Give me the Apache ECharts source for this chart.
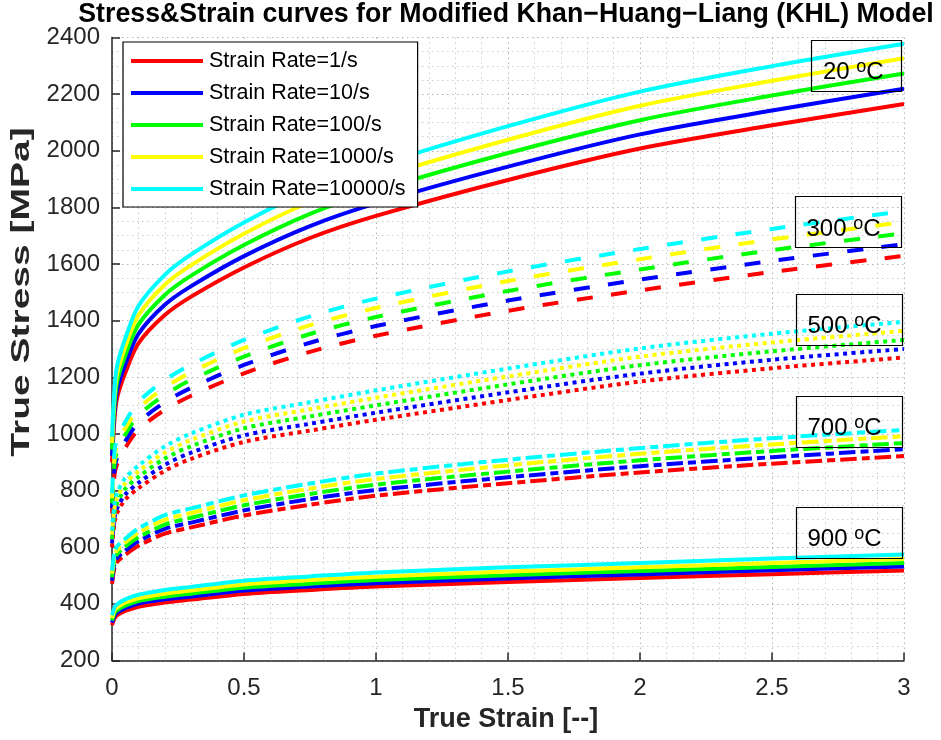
<!DOCTYPE html>
<html><head><meta charset="utf-8">
<script src="https://cdn.jsdelivr.net/npm/echarts@6/dist/echarts.min.js"></script>
<style>html,body{margin:0;padding:0;background:#fff}#c{width:941px;height:740px}</style>
</head><body><div id="c"></div>
<script>
// ---- data ----
const strain = [0, 0.01, 0.02, 0.05, 0.1, 0.2, 0.3, 0.5, 0.75, 1, 1.5, 2, 2.5, 3];
const rateNames = ['Strain Rate=1/s', 'Strain Rate=10/s', 'Strain Rate=100/s', 'Strain Rate=1000/s', 'Strain Rate=10000/s'];
const tempNames = ['20', '300', '500', '700', '900'];
const xTicks = [0, 0.5, 1, 1.5, 2, 2.5, 3];
const yTicks = [200, 400, 600, 800, 1000, 1200, 1400, 1600, 1800, 2000, 2200, 2400];

// 20 C
const t20_r1    = [900, 1060, 1130, 1215, 1320, 1420, 1485, 1588, 1692, 1770, 1897, 2008, 2090, 2165];
const t20_r10   = [923, 1087, 1158, 1245, 1353, 1456, 1522, 1628, 1734, 1814, 1944, 2058, 2142, 2219];
const t20_r100  = [945, 1113, 1187, 1276, 1386, 1491, 1559, 1667, 1777, 1859, 1992, 2108, 2195, 2273];
const t20_r1e3  = [968, 1140, 1215, 1306, 1419, 1527, 1596, 1707, 1819, 1903, 2039, 2159, 2247, 2327];
const t20_r1e4  = [990, 1166, 1243, 1337, 1452, 1562, 1634, 1747, 1861, 1947, 2087, 2209, 2299, 2378];
// 300 C
const t300_r1   = [720, 860, 895, 950, 1015, 1085, 1135, 1214, 1290, 1347, 1435, 1507, 1572, 1629];
const t300_r10  = [738, 882, 917, 974, 1040, 1112, 1163, 1244, 1322, 1381, 1471, 1545, 1611, 1670];
const t300_r100 = [755, 902, 939, 997, 1065, 1138, 1191, 1273, 1353, 1413, 1505, 1581, 1649, 1709];
const t300_r1e3 = [773, 923, 960, 1019, 1089, 1164, 1218, 1303, 1384, 1445, 1540, 1617, 1687, 1748];
const t300_r1e4 = [790, 943, 982, 1042, 1113, 1190, 1245, 1332, 1415, 1478, 1574, 1653, 1724, 1787];
// 500 C
const t500_r1   = [600, 690, 722, 768, 808, 870, 912, 972, 1012, 1050, 1120, 1185, 1232, 1270];
const t500_r10  = [614, 707, 739, 786, 827, 891, 934, 995, 1036, 1075, 1147, 1213, 1262, 1300];
const t500_r100 = [629, 724, 757, 806, 848, 913, 957, 1020, 1062, 1101, 1175, 1243, 1292, 1332];
const t500_r1e3 = [644, 741, 775, 825, 868, 934, 979, 1044, 1087, 1128, 1203, 1273, 1323, 1364];
const t500_r1e4 = [659, 758, 793, 844, 888, 956, 1002, 1068, 1112, 1154, 1231, 1302, 1354, 1396];
// 700 C
const t700_r1   = [470, 530, 549, 573, 605, 648, 670, 712, 750, 782, 826, 864, 895, 922];
const t700_r10  = [482, 544, 563, 588, 621, 665, 687, 730, 770, 802, 847, 886, 918, 946];
const t700_r100 = [494, 557, 576, 602, 635, 680, 704, 748, 788, 821, 867, 907, 940, 968];
const t700_r1e3 = [506, 570, 591, 617, 651, 697, 721, 766, 807, 841, 889, 930, 963, 992];
const t700_r1e4 = [517, 583, 604, 630, 666, 713, 737, 783, 825, 860, 909, 950, 985, 1014];
// 900 C
const t900_r1   = [325, 350, 360, 375, 390, 405, 415, 435, 449, 461, 477, 491, 505, 518];
const t900_r10  = [334, 359, 370, 385, 401, 416, 426, 447, 461, 473, 490, 504, 519, 532];
const t900_r100 = [341, 368, 378, 394, 410, 425, 436, 457, 471, 484, 501, 516, 530, 544];
const t900_r1e3 = [350, 377, 388, 404, 420, 436, 447, 468, 484, 496, 514, 529, 544, 558];
const t900_r1e4 = [360, 388, 399, 416, 432, 449, 460, 482, 497, 511, 529, 544, 560, 574];

// ---- styling ----
const rateColors = ['#ff0000', '#0000ff', '#00ff00', '#ffff00', '#00ffff'];
const groups = [
  { temp: '20',  dash: 'solid',          curves: [t20_r1, t20_r10, t20_r100, t20_r1e3, t20_r1e4] },
  { temp: '300', dash: [16, 18.5],       curves: [t300_r1, t300_r10, t300_r100, t300_r1e3, t300_r1e4] },
  { temp: '500', dash: [4, 4.5],         curves: [t500_r1, t500_r10, t500_r100, t500_r1e3, t500_r1e4] },
  { temp: '700', dash: [16.5, 5, 8, 5],  curves: [t700_r1, t700_r10, t700_r100, t700_r1e3, t700_r1e4] },
  { temp: '900', dash: 'solid',          curves: [t900_r1, t900_r10, t900_r100, t900_r1e3, t900_r1e4] }
];

const series = [];
groups.forEach(g => {
  g.curves.forEach((arr, i) => {
    series.push({
      type: 'line',
      name: g.temp === '20' ? rateNames[i] : g.temp + ' °C ' + rateNames[i],
      data: strain.map((x, k) => [x, arr[k]]),
      showSymbol: false, symbol: 'none',
      smooth: 0.3,
      silent: true, animation: false,
      lineStyle: { color: rateColors[i], width: 4, type: g.dash, cap: 'butt', join: 'round' },
      itemStyle: { color: rateColors[i] }
    });
  });
});

const tickFont = "'Liberation Sans', Arial, sans-serif";
const gridDot = { color: '#b4b4b4', width: 1, type: [1.5, 3.5] };
const minorDot = { color: '#cdcdcd', width: 1, type: [1.5, 3.5] };

// annotation boxes (pixel layout)
const boxes = [
  { t: '20',  x: 811.5, y: 40.5,  w: 90,  h: 51, tx: 823, ty: 71.5 },
  { t: '300', x: 795.5, y: 196.5, w: 106, h: 51, tx: 806.5, ty: 228 },
  { t: '500', x: 796.5, y: 294.5, w: 106, h: 51, tx: 807.5, ty: 325 },
  { t: '700', x: 796.5, y: 396.5, w: 106, h: 51, tx: 807.5, ty: 427.5 },
  { t: '900', x: 796.5, y: 507.5, w: 106, h: 51, tx: 807.5, ty: 538 }
];
const graphics = [];
boxes.forEach(b => {
  graphics.push({ type: 'rect', z: 100, silent: true,
    shape: { x: b.x, y: b.y, width: b.w, height: b.h },
    style: { fill: 'none', stroke: '#000', lineWidth: 1.2 } });
  graphics.push({ type: 'text', z: 101, silent: true, x: b.tx, y: b.ty,
    style: { text: '{n|' + b.t + ' }{s|o}{n|C}', align: 'left', verticalAlign: 'middle',
      rich: {
        n: { fontFamily: 'Liberation Sans', fontSize: 24, color: '#000', lineHeight: 26, verticalAlign: 'bottom' },
        s: { fontFamily: 'Liberation Sans', fontSize: 18, color: '#000', lineHeight: 20, verticalAlign: 'top', padding: [0, 0, 6, 0] }
      } } });
});
// title and axis names
graphics.push({ type: 'text', z: 101, silent: true, x: 506, y: 15,
  style: { text: 'Stress&Strain curves for Modified Khan\u2212Huang\u2212Liang (KHL) Model',
    fontFamily: 'Liberation Sans', fontWeight: 'bold', fontSize: 27, fill: '#000',
    align: 'center', verticalAlign: 'middle' }, scaleX: 0.99 });
graphics.push({ type: 'text', z: 101, silent: true, x: 506, y: 720,
  style: { text: 'True Strain [--]', fontFamily: 'Liberation Sans', fontWeight: 'bold', fontSize: 27, fill: '#262626',
    align: 'center', verticalAlign: 'middle' } });
graphics.push({ type: 'text', z: 101, silent: true, x: 22, y: 292, rotation: Math.PI / 2,
  style: { text: 'True Stress [MPa]', fontFamily: 'Liberation Sans', fontWeight: 'bold', fontSize: 26, fill: '#262626',
    align: 'center', verticalAlign: 'middle' }, scaleX: 1.5 });

const chart = echarts.init(document.getElementById('c'), null, { renderer: 'canvas' });
chart.setOption({
  animation: false,
  backgroundColor: '#ffffff',
  grid: { left: 112, right: 37, top: 37.5, bottom: 79.5, containLabel: false },
  legend: {
    data: rateNames, orient: 'vertical', left: 123, top: 42,
    icon: 'rect', itemWidth: 72, itemHeight: 4, itemGap: 10,
    padding: [8, 12, 7, 8],
    backgroundColor: '#ffffff', borderColor: '#000', borderWidth: 1.2,
    selectedMode: false,
    textStyle: { fontFamily: 'Liberation Sans', fontSize: 21.5, color: '#000', lineHeight: 20, padding: [0, 0, 0, 1] },
    z: 50
  },
  xAxis: {
    type: 'value', min: xTicks[0], max: xTicks[xTicks.length - 1], interval: 0.5,
    axisLine: { show: true, lineStyle: { color: '#262626', width: 1.5 } },
    axisTick: { show: true, inside: true, length: 8, lineStyle: { color: '#262626', width: 1.5 } },
    axisLabel: { fontFamily: tickFont, fontSize: 24, color: '#262626', margin: 16, formatter: v => String(v) },
    splitLine: { show: true, lineStyle: gridDot },
    minorTick: { show: false, splitNumber: 5 },
    minorSplitLine: { show: true, lineStyle: minorDot }
  },
  yAxis: {
    type: 'value', min: yTicks[0], max: yTicks[yTicks.length - 1], interval: 200,
    axisLine: { show: true, lineStyle: { color: '#262626', width: 1.5 } },
    axisTick: { show: true, inside: true, length: 8, lineStyle: { color: '#262626', width: 1.5 } },
    axisLabel: { fontFamily: tickFont, fontSize: 24, color: '#262626', margin: 12, formatter: v => String(v) },
    splitLine: { show: true, lineStyle: gridDot },
    minorTick: { show: false, splitNumber: 4 },
    minorSplitLine: { show: true, lineStyle: minorDot }
  },
  series: series,
  graphic: graphics
});
</script>
</body></html>
